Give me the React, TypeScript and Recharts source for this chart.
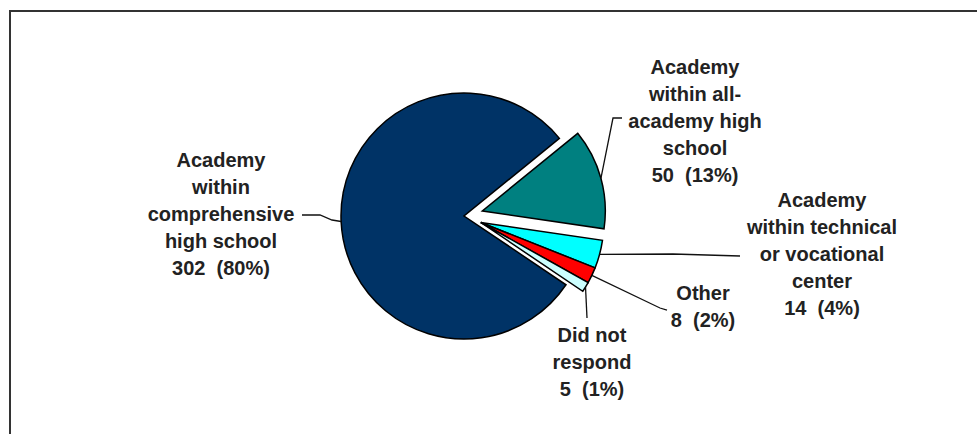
import { PieChart, Pie, Cell } from "recharts";

const categories = [
  "Academy within comprehensive high school",
  "Academy within all-academy high school",
  "Academy within technical or vocational center",
  "Other",
  "Did not respond",
];
const labelLines = [
  ["Academy", "within", "comprehensive", "high school"],
  ["Academy", "within all-", "academy high", "school"],
  ["Academy", "within technical", "or vocational", "center"],
  ["Other"],
  ["Did not", "respond"],
];
const counts = [302, 50, 14, 8, 5];
const percents = [80, 13, 4, 2, 1];
const colors = ["#003366", "#008080", "#00FFFF", "#FF0000", "#CCFFFF"];

const data = categories.map((name, i) => ({ name, value: counts[i], pct: percents[i] }));

const CX = 464;
const CY = 216;
const R = 123;
const START = 326;
const RAD = Math.PI / 180;

// slices drawn together, each group pulled out of the pie by `pull` px
const groups = [
  { members: [0], pull: 0 },
  { members: [1], pull: 19 },
  { members: [2, 3, 4], pull: 18 },
];

const total = counts.reduce((a, b) => a + b, 0);
const edges = counts.reduce<number[]>(
  (acc, v) => [...acc, acc[acc.length - 1] - (v / total) * 360],
  [START]
);

const offsets = groups.map((g) => {
  const first = g.members[0];
  const last = g.members[g.members.length - 1];
  const mid = (edges[first] + edges[last + 1]) / 2;
  return { dx: g.pull * Math.cos(mid * RAD), dy: -g.pull * Math.sin(mid * RAD) };
});
const groupOf = counts.map((_, i) => groups.findIndex((g) => g.members.includes(i)));

// text centre x, first line centre y, leader elbows (after the arc point)
const labelPos = [
  { x: 221, y: 160, leader: [[332, 220], [320, 215], [302, 215]] },
  { x: 695, y: 67, leader: [[613, 118], [622, 118]] },
  { x: 822, y: 200, leader: [[673, 254], [740, 256]] },
  { x: 703, y: 293, leader: [[660, 308], [667, 310]] },
  { x: 592, y: 335, leader: [[587, 318]] },
];

const LINE_H = 27;

function SliceLabel(props: any) {
  const { midAngle, index, outerRadius } = props;
  const off = offsets[groupOf[index]];
  const sx = CX + off.dx + outerRadius * Math.cos(-midAngle * RAD);
  const sy = CY + off.dy + outerRadius * Math.sin(-midAngle * RAD);
  const pos = labelPos[index];
  const pts = [[sx, sy], ...pos.leader].map((p) => p.join(",")).join(" ");
  const lines = [...labelLines[index], `${counts[index]}  (${percents[index]}%)`];

  return (
    <g>
      <polyline points={pts} fill="none" stroke="#111" strokeWidth={1.3} />
      <text
        x={pos.x}
        textAnchor="middle"
        fontFamily="'Liberation Sans', Arial, sans-serif"
        fontWeight="bold"
        fontSize={20}
        fill="#222"
        style={{ whiteSpace: "pre" }}
      >
        {lines.map((line, k) => (
          <tspan key={k} x={pos.x} y={pos.y + k * LINE_H + 7}>
            {line}
          </tspan>
        ))}
      </text>
    </g>
  );
}

export default function App() {
  return (
    <div
      style={{
        position: "absolute",
        left: 0,
        top: 0,
        width: 977,
        height: 434,
        overflow: "hidden",
        background: "#fff",
      }}
    >
      <div
        style={{
          position: "absolute",
          left: 9,
          top: 10,
          width: 1100,
          height: 600,
          borderTop: "2px solid #333",
          borderLeft: "2px solid #333",
        }}
      />
      <PieChart width={977} height={434} margin={{ top: 0, right: 0, bottom: 0, left: 0 }}>
        {groups.map((g, gi) => (
          <Pie
            key={gi}
            data={data}
            dataKey="value"
            nameKey="name"
            cx={CX + offsets[gi].dx}
            cy={CY + offsets[gi].dy}
            outerRadius={R}
            startAngle={START}
            endAngle={START - 360}
            stroke="#000"
            strokeWidth={1.5}
            labelLine={false}
            label={gi === 0 ? SliceLabel : false}
            isAnimationActive={false}
          >
            {data.map((_, i) => (
              <Cell
                key={i}
                fill={g.members.includes(i) ? colors[i] : "none"}
                stroke={g.members.includes(i) ? "#000" : "none"}
              />
            ))}
          </Pie>
        ))}
      </PieChart>
    </div>
  );
}
